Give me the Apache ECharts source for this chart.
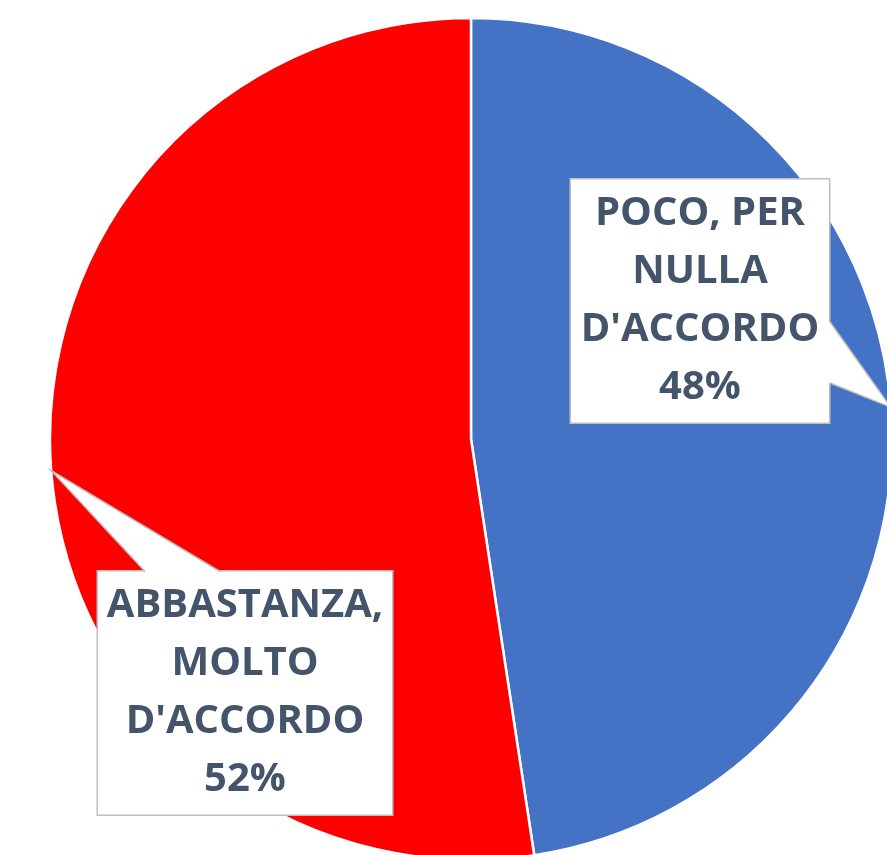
<!DOCTYPE html>
<html>
<head>
<meta charset="utf-8">
<script src="https://cdn.jsdelivr.net/npm/echarts@6/dist/echarts.min.js"></script>
<style>
	html, body { margin: 0; padding: 0; background: #fff; }
	#pie { width: 887px; height: 855px; }
</style>
</head>
<body>
<div id="pie"></div>
<script>
// dati
var categories = ['POCO, PER\nNULLA\nD\'ACCORDO', 'ABBASTANZA,\nMOLTO\nD\'ACCORDO'];
var values = [47.6, 52.4];
var colors = ['#4472C4', '#FF0000'];

// box delle etichette (centro, larghezza)
var boxes = [
	{ x: 700, y: 301, w: 260, h: 243 },
	{ x: 245, y: 693, w: 296, h: 243 }
];

var myChart = echarts.init(document.getElementById('pie'));

var data = [];
for (var i = 0; i < values.length; i++) {
	data.push({
		name: categories[i],
		value: values[i],
		itemStyle: { color: colors[i] },
		label: { width: boxes[i].w - 2 }
	});
}

var option = {
	backgroundColor: '#fff',
	animation: false,
	series: [{
		type: 'pie',
		center: [471, 439],
		radius: 421,
		startAngle: 90,
		clockwise: true,
		percentPrecision: 0,
		data: data,
		itemStyle: {
			borderColor: '#fff',
			borderWidth: 2.5
		},
		label: {
			show: true,
			formatter: '{b}\n{d}%',
			fontFamily: 'Open Sans',
			fontWeight: 'bold',
			fontSize: 40,
			lineHeight: 58,
			color: '#44546A',
			align: 'center',
			backgroundColor: '#fff',
			borderColor: '#BFBFBF',
			borderWidth: 1.5,
			padding: [5, 0, 6, 0]
		},
		labelLine: { show: false },
		labelLayout: function(params) {
			var b = boxes[params.dataIndex];
			return { x: b.x, y: b.y, align: 'center', verticalAlign: 'middle' };
		}
	}]
};
myChart.setOption(option);

// punte dei callout, calcolate dal layout della torta
function drawPointers() {
	var pieData = myChart.getModel().getSeriesByIndex(0).getData();
	var els = [];
	for (var i = 0; i < values.length; i++) {
		var lay = pieData.getItemLayout(i);
		var mid = (lay.startAngle + lay.endAngle) / 2;
		var tip = [lay.cx + lay.r * Math.cos(mid), lay.cy + lay.r * Math.sin(mid)];
		var b = boxes[i];
		var p1, p2, q1, q2;
		if (i == 0) {
			// base sul lato destro del box
			var right = b.x + b.w / 2;
			p1 = [right, b.y + 21]; p2 = [right, b.y + 82];
			q1 = [right - 4, b.y + 21]; q2 = [right - 4, b.y + 82];
		} else {
			// base sul lato superiore del box
			var top = b.y - b.h / 2;
			p1 = [b.x - 100, top]; p2 = [b.x - 25, top];
			q1 = [b.x - 100, top + 4]; q2 = [b.x - 25, top + 4];
		}
		els.push({
			type: 'polygon',
			z: 100,
			shape: { points: [q1, p1, tip, p2, q2] },
			style: { fill: '#fff' }
		});
		els.push({
			type: 'polyline',
			z: 101,
			shape: { points: [p1, tip, p2] },
			style: { stroke: '#BFBFBF', lineWidth: 1.5, fill: null }
		});
	}
	myChart.setOption({ graphic: els });
}
drawPointers();
</script>
</body>
</html>
